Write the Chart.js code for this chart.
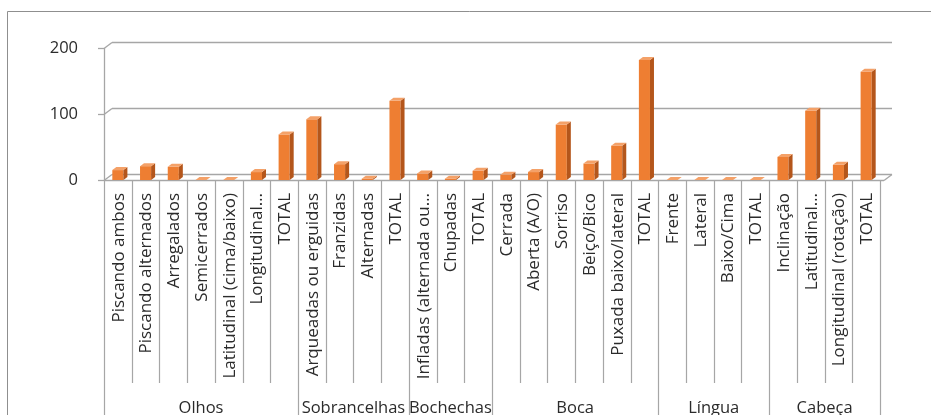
<!DOCTYPE html>
<html>
<head>
<meta charset="utf-8">
<script src="https://cdn.jsdelivr.net/npm/chart.js@4"></script>
<style>
  html, body { margin: 0; padding: 0; background: #fff; }
  canvas { display: block; }
</style>
</head>
<body>
<canvas id="c" width="931" height="415"></canvas>
<script>
// Movement categories, grouped by body part
const groups = ['Olhos', 'Sobrancelhas', 'Bochechas', 'Boca', 'Língua', 'Cabeça'];
const groupSizes = [7, 4, 3, 6, 4, 4];
const categories = [
  'Piscando ambos', 'Piscando alternados', 'Arregalados', 'Semicerrados',
  'Latitudinal (cima/baixo)', 'Longitudinal…', 'TOTAL',
  'Arqueadas ou erguidas', 'Franzidas', 'Alternadas', 'TOTAL',
  'Infladas (alternada ou…', 'Chupadas', 'TOTAL',
  'Cerrada', 'Aberta (A/O)', 'Sorriso', 'Beiço/Bico', 'Puxada baixo/lateral', 'TOTAL',
  'Frente', 'Lateral', 'Baixo/Cima', 'TOTAL',
  'Inclinação', 'Latitudinal…', 'Longitudinal (rotação)', 'TOTAL'
];
const counts = [
  15, 21, 20, 0, 0, 12, 69,
  92, 24, 2, 120,
  10, 2, 14,
  8, 12, 84, 25, 52, 182,
  0, 0, 0, 0,
  35, 105, 23, 164
];
const yTicks = [0, 100, 200];

const FONT = "'Open Sans', 'Noto Sans', sans-serif";
const GRID = '#a6a6a6';
const TEXT = '#2b2b2b';
const WALL_DX = 8, WALL_DY = 6;     // depth of the back wall / floor
const BAR_DX = 4, BAR_DY = 3;       // depth of each column
const FRONT = '#ee7e32', SIDE = '#b4561b', TOP = '#f4a168';

function seg(ctx, x1, y1, x2, y2) {
  ctx.beginPath(); ctx.moveTo(x1, y1); ctx.lineTo(x2, y2); ctx.stroke();
}

const pseudo3d = {
  id: 'pseudo3d',
  beforeDatasetsDraw(chart) {
    const { ctx, chartArea: { left, right, top, bottom }, scales: { y } } = chart;
    ctx.save();
    ctx.strokeStyle = GRID;
    ctx.lineWidth = 1.3;
    yTicks.forEach(v => {
      const py = Math.round(y.getPixelForValue(v)) + 0.5;
      seg(ctx, left - 6, py, left, py);
      seg(ctx, left, py, left + WALL_DX, py - WALL_DY);
      seg(ctx, left + WALL_DX, py - WALL_DY, right + 12, py - WALL_DY);
    });
    const b = Math.round(bottom) + 0.5;
    seg(ctx, left + 0.5, top, left + 0.5, b);
    seg(ctx, left, b, right + 4, b);
    seg(ctx, right + 4, b, right + 12, b - WALL_DY);
    ctx.restore();
  },
  afterDatasetsDraw(chart) {
    const { ctx } = chart;
    const meta = chart.getDatasetMeta(0);
    ctx.save();
    meta.data.forEach(bar => {
      const { x, y, base, width } = bar.getProps(['x', 'y', 'base', 'width'], true);
      const xl = x - width / 2, xr = x + width / 2;
      ctx.fillStyle = SIDE;
      ctx.beginPath();
      ctx.moveTo(xr, y); ctx.lineTo(xr + BAR_DX, y - BAR_DY);
      ctx.lineTo(xr + BAR_DX, base - BAR_DY); ctx.lineTo(xr, base);
      ctx.closePath(); ctx.fill();
      ctx.fillStyle = TOP;
      ctx.beginPath();
      ctx.moveTo(xl, y); ctx.lineTo(xl + BAR_DX, y - BAR_DY);
      ctx.lineTo(xr + BAR_DX, y - BAR_DY); ctx.lineTo(xr, y);
      ctx.closePath(); ctx.fill();
    });
    ctx.restore();
  },
  afterDraw(chart) {
    const { ctx, chartArea: { bottom }, scales: { x } } = chart;
    const n = categories.length;
    const step = x.getPixelForValue(1) - x.getPixelForValue(0);
    const edge = i => x.getPixelForValue(i) - step / 2;
    ctx.save();
    // category and group dividers
    const groupEdges = new Set([0]);
    let acc = 0;
    groupSizes.forEach(s => { acc += s; groupEdges.add(acc); });
    ctx.strokeStyle = GRID;
    ctx.lineWidth = 1.2;
    for (let i = 0; i <= n; i++) {
      const px = Math.round(edge(i)) + 0.5;
      seg(ctx, px, bottom + 1, px, groupEdges.has(i) ? 415 : 383);
    }
    // category labels, rotated
    ctx.fillStyle = TEXT;
    ctx.font = `17px ${FONT}`;
    ctx.textAlign = 'right';
    ctx.textBaseline = 'middle';
    categories.forEach((lab, i) => {
      ctx.save();
      ctx.translate(x.getPixelForValue(i) + 1, bottom + 13);
      ctx.rotate(-Math.PI / 2);
      ctx.fillText(lab, 0, 0);
      ctx.restore();
    });
    // group labels
    ctx.font = `16.5px ${FONT}`;
    ctx.textAlign = 'center';
    ctx.textBaseline = 'alphabetic';
    let start = 0;
    groups.forEach((g, k) => {
      const end = start + groupSizes[k];
      ctx.fillText(g, (edge(start) + edge(end)) / 2, 413);
      start = end;
    });
    // outer frame
    ctx.strokeStyle = '#8f8f8f';
    ctx.lineWidth = 1;
    seg(ctx, 7.5, 11.5, 931, 11.5);
    seg(ctx, 7.5, 11.5, 7.5, 415);
    ctx.restore();
  }
};

new Chart(document.getElementById('c'), {
  type: 'bar',
  data: {
    labels: categories,
    datasets: [{
      data: counts,
      backgroundColor: FRONT,
      borderWidth: 0,
      barPercentage: 0.4,
      categoryPercentage: 1
    }]
  },
  options: {
    responsive: false,
    animation: false,
    events: [],
    layout: { padding: { top: 48, right: 51, bottom: 235, left: 0 } },
    plugins: { legend: { display: false }, tooltip: { enabled: false } },
    scales: {
      x: { display: false, offset: true },
      y: {
        min: 0, max: 200,
        afterBuildTicks(scale) { scale.ticks = yTicks.map(v => ({ value: v })); },
        afterFit(scale) { scale.width = 104; },
        grid: { display: false },
        border: { display: false },
        ticks: { padding: 18, color: TEXT, font: { family: FONT, size: 16.5 } }
      }
    }
  },
  plugins: [pseudo3d]
});
</script>
</body>
</html>
